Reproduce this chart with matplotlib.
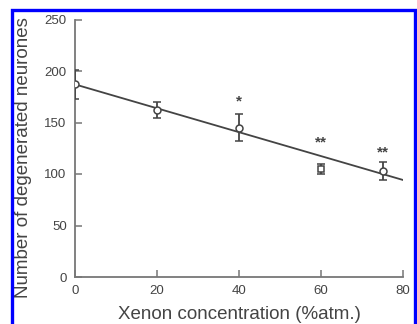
import numpy as np
import matplotlib
matplotlib.use('Agg')
import matplotlib.pyplot as plt
from matplotlib.patches import Rectangle

# values
xenon = [0, 20, 40, 60, 75]
neurones = [187, 162, 145, 105, 103]
err = [14, 8, 13, 5, 9]
markers = ['o', 'o', 'o', 's', 'o']
stars = ['', '', '*', '**', '**']
star_y = [0, 0, 170, 131, 121]
fit_intercept = 187
fit_slope = -1.16
x_ticks = [0, 20, 40, 60, 80]
y_ticks = [0, 50, 100, 150, 200, 250]

plt.rcParams['font.family'] = ['Liberation Sans', 'DejaVu Sans']
ink = '#444444'

fig = plt.figure(figsize=(4.17, 3.24), dpi=100)
ax = fig.add_axes([75 / 417, 1 - 277 / 324, (403 - 75) / 417, (277 - 19.5) / 324])

xf = np.array([0, 80])
ax.plot(xf, fit_intercept + fit_slope * xf, color=ink, lw=1.3, zorder=2)

for x, y, e, m in zip(xenon, neurones, err, markers):
    ax.errorbar(x, y, yerr=e, fmt=m, ms=5 if m == 'o' else 4.5, mfc='white', mec=ink,
                mew=1.1, ecolor=ink, elinewidth=1.3, capsize=3, capthick=1.6, zorder=3)

for x, s, sy in zip(xenon, stars, star_y):
    if s:
        ax.text(x, sy, s, ha='center', va='center', fontsize=11, fontweight='bold', color=ink)

ax.set_xlim(0, 80)
ax.set_ylim(0, 250)
ax.set_xticks(x_ticks)
ax.set_yticks(y_ticks)
ax.spines['top'].set_visible(False)
ax.spines['right'].set_visible(False)
for s in ['left', 'bottom']:
    ax.spines[s].set_color('#777777')
    ax.spines[s].set_linewidth(1.3)
ax.tick_params(direction='in', length=5, width=1.1, color='#777777',
               labelsize=9.5, labelcolor=ink, pad=6)
ax.set_xlabel('Xenon concentration (%atm.)', fontsize=13.5, color=ink, labelpad=6)
ax.set_ylabel('Number of degenerated neurones', fontsize=13.5, color=ink, va='center')
ax.yaxis.set_label_coords(-(75 - 24) / 328, (277 - 158) / 257.5)

fig.patches.append(Rectangle((11.5 / 417, -0.1), (415 - 11.5) / 417, 1.1 - 10.5 / 324 + 0.001,
                             transform=fig.transFigure, fill=False, edgecolor='#0000ff',
                             linewidth=2.4, zorder=10))

fig.savefig('out.png', dpi=100)
